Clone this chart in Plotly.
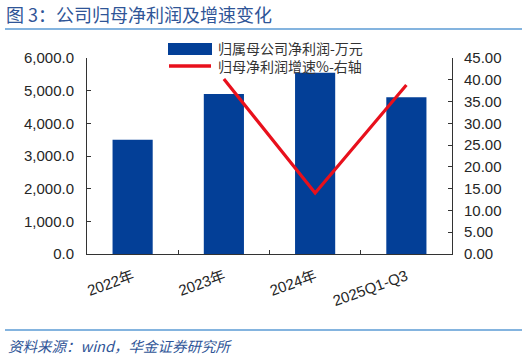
import plotly.graph_objects as go

categories = ["2022年", "2023年", "2024年", "2025Q1-Q3"]
profit = [3500, 4900, 5550, 4800]
growth = [None, 40.2, 14.0, 38.8]
legend_names = ["归属母公司净利润-万元", "归母净利润增速%-右轴"]
title_text = "图 3：公司归母净利润及增速变化"
source_text = "资料来源：wind，华金证券研究所"

W, H = 527, 359
L, R, T, B = 87, 452, 58, 254

def px(x):
    return (x - L) / (R - L)

def py(y):
    return (B - y) / (B - T)

BLUE = "#033f97"
RED = "#e8101c"
CJK = "Noto Sans CJK SC"
NUM = "Liberation Sans, Arial"
TICKC = "#262626"

fig = go.Figure()
fig.add_trace(go.Bar(x=categories, y=profit, marker=dict(color=BLUE, line=dict(width=0)),
                     name=legend_names[0], yaxis="y"))
fig.add_trace(go.Scatter(x=categories, y=growth, mode="lines", line=dict(color=RED, width=3.2),
                         name=legend_names[1], yaxis="y2", connectgaps=False))

fig.update_layout(
    width=W, height=H,
    margin=dict(l=L, r=W - R, t=T, b=H - B),
    plot_bgcolor="white", paper_bgcolor="white",
    showlegend=False,
    bargap=0.56,
    xaxis=dict(showline=True, linecolor="#333", linewidth=1, ticks="inside", ticklen=4,
               tickcolor="#333", tickson="boundaries", tickangle=-20, ticklabelstandoff=7,
               tickfont=dict(family=NUM + ", " + CJK, size=15, color=TICKC), mirror=False),
    yaxis=dict(range=[0, 6000], dtick=1000, tickformat=",.1f", showline=True, linecolor="#333",
               linewidth=1, ticks="inside", ticklen=4, tickcolor="#333", showgrid=False, zeroline=False,
               ticklabelstandoff=9,
               tickfont=dict(family=NUM, size=15, color=TICKC)),
    yaxis2=dict(range=[0, 45], dtick=5, tickformat=".2f", overlaying="y", side="right",
                showline=True, linecolor="#333", linewidth=1, ticks="inside", ticklen=4,
                tickcolor="#333", showgrid=False, zeroline=False, ticklabelstandoff=8,
                tickfont=dict(family=NUM, size=15, color=TICKC)),
)

shapes = [
    dict(type="line", xref="paper", yref="paper", x0=px(5), x1=px(522), y0=py(29), y1=py(29),
         line=dict(color="#5b9bd5", width=1.5)),
    dict(type="line", xref="paper", yref="paper", x0=px(5), x1=px(522), y0=py(330), y1=py(330),
         line=dict(color="#5b9bd5", width=1.5)),
    dict(type="rect", xref="paper", yref="paper", x0=px(168), x1=px(212), y0=py(55), y1=py(43),
         fillcolor=BLUE, line=dict(width=0)),
    dict(type="line", xref="paper", yref="paper", x0=px(169), x1=px(211), y0=py(66), y1=py(66),
         line=dict(color=RED, width=3.5)),
]
fig.update_layout(shapes=shapes)

annotations = [
    dict(text=title_text, xref="paper", yref="paper", x=px(4), y=py(14), xanchor="left", yanchor="middle",
         showarrow=False, font=dict(family=CJK, size=18, color="#2f5597")),
    dict(text="<i>" + source_text + "</i>", xref="paper", yref="paper", x=px(6), y=py(345), xanchor="left",
         yanchor="middle", showarrow=False, font=dict(family=CJK, size=14.5, color="#2f5597")),
    dict(text=legend_names[0] + "<br>" + legend_names[1], xref="paper", yref="paper", x=px(216),
         y=py(57.5), xanchor="left", yanchor="middle", align="left", showarrow=False,
         font=dict(family=CJK, size=14, color="#333")),
]
fig.update_layout(annotations=annotations)

fig.write_html("out.html")
